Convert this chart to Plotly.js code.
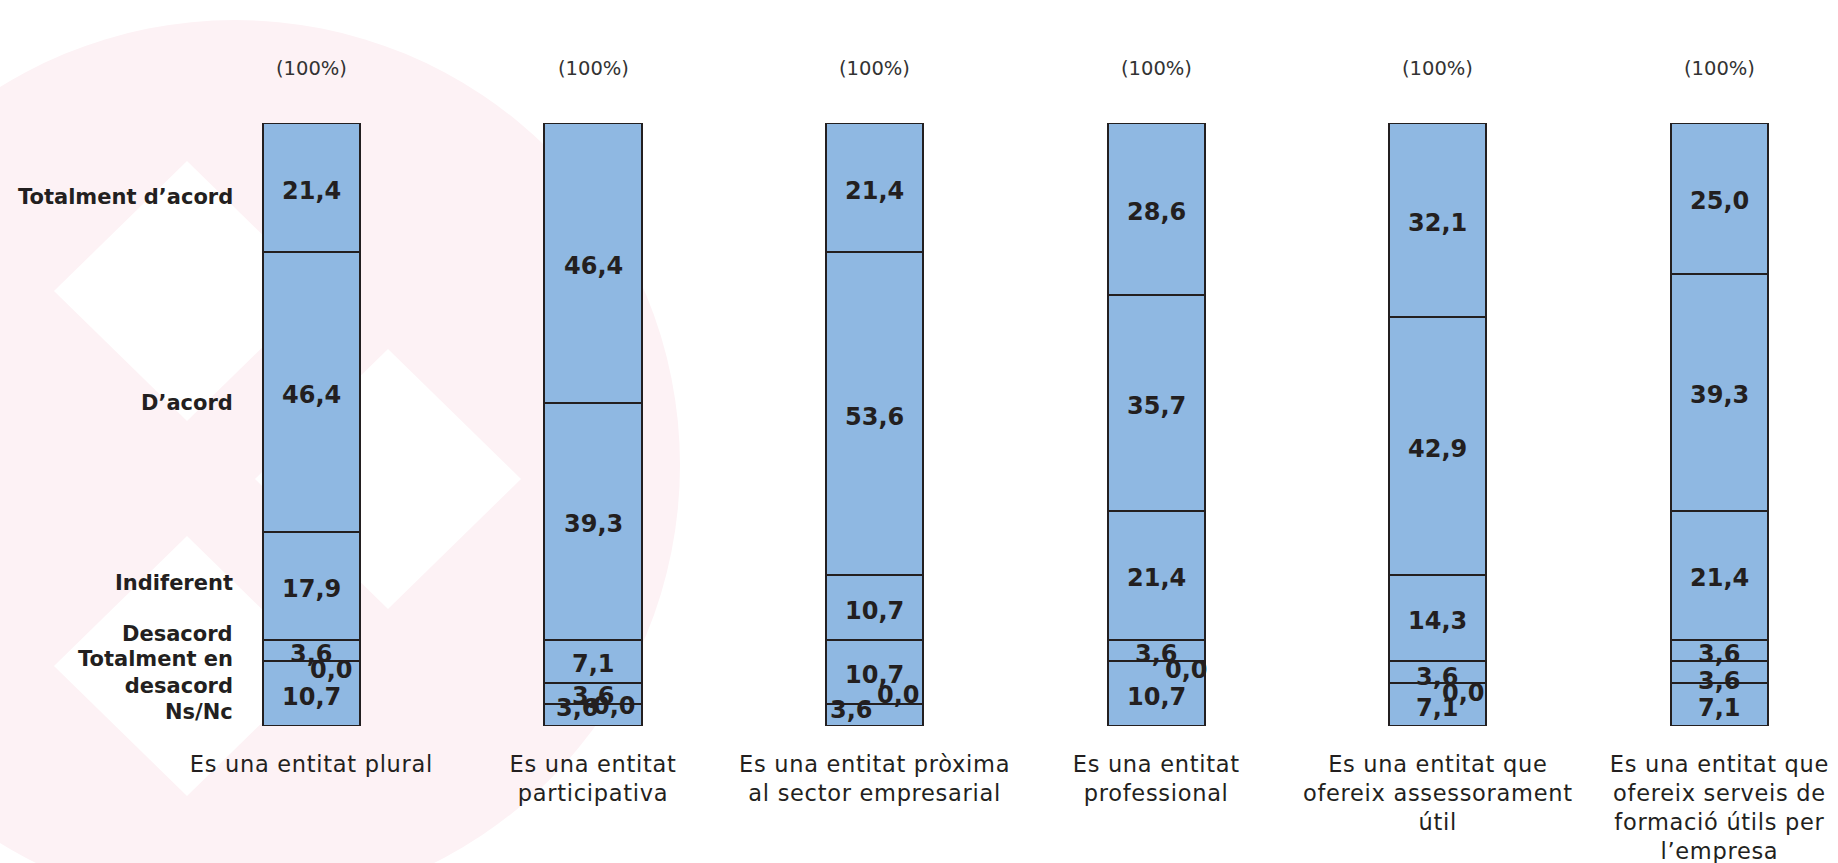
<!DOCTYPE html>
<html><head><meta charset="utf-8">
<script src="https://cdn.plot.ly/plotly-3.0.1.min.js"></script>
<style>html,body{margin:0;padding:0;background:#fff;overflow:hidden}
.xtick text{letter-spacing:0.7px}</style>
</head><body><div id="chart" style="width:1838px;height:863px"></div>
<script>
// ---- data ----
const categories = ['Es una entitat plural','Es una entitat participativa','Es una entitat pròxima al sector empresarial','Es una entitat professional','Es una entitat que ofereix assessorament útil','Es una entitat que ofereix serveis de formació útils per l’empresa'];
const tickLabels = ['Es una entitat plural','Es una entitat<br>participativa','Es una entitat pròxima<br>al sector empresarial','Es una entitat<br>professional','Es una entitat que<br>ofereix assessorament<br>útil','Es una entitat que<br>ofereix serveis de<br>formació útils per<br>l’empresa'];
const seriesNames = ['Ns/Nc','Totalment en desacord','Desacord','Indiferent','D’acord','Totalment d’acord'];
const seriesLabels = ['Ns/Nc','Totalment en<br>desacord','Desacord','Indiferent','D’acord','Totalment d’acord'];
const nsnc        = [10.7, 3.6, 3.6, 10.7, 7.1, 7.1];
const totDesacord = [0.0, 0.0, 0.0, 0.0, 0.0, 3.6];
const desacord    = [3.6, 3.6, 10.7, 3.6, 3.6, 3.6];
const indiferent  = [17.9, 7.1, 10.7, 21.4, 14.3, 21.4];
const dacord      = [46.4, 39.3, 53.6, 35.7, 42.9, 39.3];
const totAcord    = [21.4, 46.4, 21.4, 28.6, 32.1, 25.0];
const series = [nsnc, totDesacord, desacord, indiferent, dacord, totAcord];

// ---- styles ----
const W = 1838, H = 863, MT = 123, MB = 137;
const INK = '#231f20';
const BAR_FILL = '#8fb8e2';
const FONT = 'DejaVu Sans, Verdana, sans-serif';
// per-label pixel nudges [dx, dy(down)] for crowded small segments
const nudges = {'1,0':[20,9],'0,1':[-16,-7],'1,1':[21,2],'0,2':[-23,-5],'1,2':[24,-9],'1,3':[30,9],'2,4':[0,5],'1,4':[26,10],'1,5':[0,9]};
const legendNudges = [18.5, 11.5, -17, -3, 11, 9.5];

const fmt = v => v.toFixed(1).replace('.', ',');

const traces = series.map((vals, s) => ({
  type: 'bar', x: categories, y: vals, name: seriesNames[s],
  width: 0.3445, cliponaxis: false,
  marker: {color: BAR_FILL, line: {color: INK, width: 2}},
  hoverinfo: 'skip', showlegend: false
}));

const annotations = [];
categories.forEach((c, i) => {
  let base = 0;
  series.forEach((vals, s) => {
    const v = vals[i];
    const n = nudges[s + ',' + i];
    annotations.push({
      xref: 'x', yref: 'y', x: c, y: base + v / 2, text: fmt(v), showarrow: false,
      xshift: n ? n[0] : 0, yshift: n ? -n[1] : -3,
      font: {family: FONT, size: 24, color: INK, weight: 'bold'}
    });
    base += v;
  });
  annotations.push({
    xref: 'x', yref: 'y', x: c, y: base, text: '(' + Math.round(base) + '%)', showarrow: false,
    yshift: 55, font: {family: FONT, size: 19.5, color: '#333333'}
  });
});
// series names aligned to first bar
{
  let base = 0;
  series.forEach((vals, s) => {
    const v = vals[0];
    annotations.push({
      xref: 'paper', yref: 'y', x: 235 / W, xanchor: 'right', y: base + v / 2,
      yshift: -legendNudges[s], text: seriesLabels[s], showarrow: false, align: 'right',
      font: {family: FONT, size: 21, color: INK, weight: 'bold'}
    });
    base += v;
  });
}

// faint watermark logo (decoration), defined in pixels -> paper coords
const PH = H - MT - MB;
const px = x => x / W, py = y => (H - MB - y) / PH;
const diamond = (cx, cy, hw, hh) => `M${px(cx)},${py(cy-hh)} L${px(cx+hw)},${py(cy)} L${px(cx)},${py(cy+hh)} L${px(cx-hw)},${py(cy)} Z`;
const PINK = '#fdf2f5';
const shapes = [
  {type: 'circle', xref: 'paper', yref: 'paper', layer: 'below', x0: px(235-445), x1: px(235+445), y0: py(465+445), y1: py(465-445), fillcolor: PINK, line: {width: 0}},
  {type: 'path', xref: 'paper', yref: 'paper', layer: 'below', path: diamond(187, 291, 133, 130), fillcolor: '#ffffff', line: {width: 0}},
  {type: 'path', xref: 'paper', yref: 'paper', layer: 'below', path: diamond(388, 479, 133, 130), fillcolor: '#ffffff', line: {width: 0}},
  {type: 'path', xref: 'paper', yref: 'paper', layer: 'below', path: diamond(187, 666, 133, 130), fillcolor: '#ffffff', line: {width: 0}}
];

const xa = -311.4 / 281.6;
const layout = {
  width: W, height: H, margin: {l: 0, r: 0, t: MT, b: MB, pad: 0},
  paper_bgcolor: '#ffffff', plot_bgcolor: 'rgba(0,0,0,0)',
  barmode: 'stack', showlegend: false,
  xaxis: {type: 'category', range: [xa, xa + W / 281.6], tickvals: categories, ticktext: tickLabels,
          showgrid: false, zeroline: false, showline: false, ticks: '', ticklabelstandoff: 22,
          tickfont: {family: FONT, size: 22.5, color: INK}, fixedrange: true},
  yaxis: {range: [0, 100], visible: false, showgrid: false, zeroline: false, fixedrange: true},
  annotations, shapes
};
Plotly.newPlot('chart', traces, layout, {displayModeBar: false, staticPlot: true});
</script></body></html>
